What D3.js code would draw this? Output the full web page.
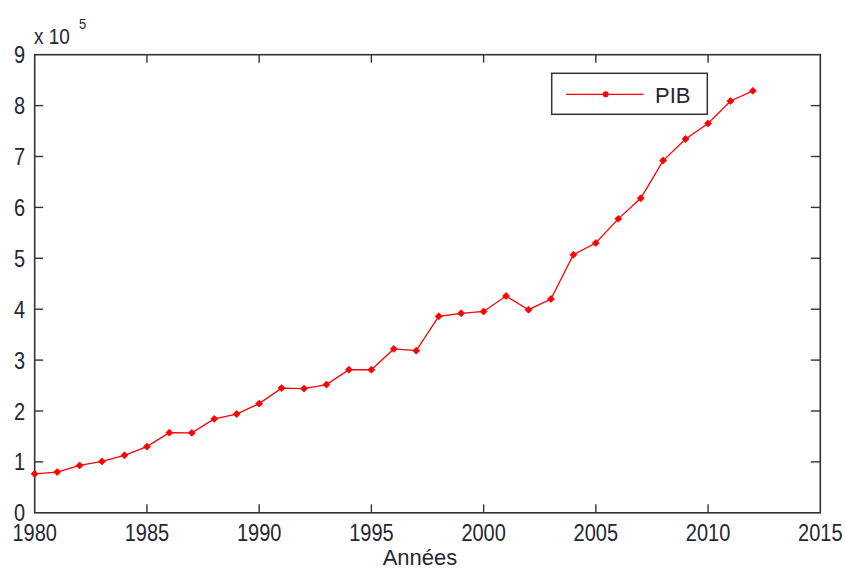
<!DOCTYPE html>
<html>
<head>
<meta charset="utf-8">
<script src="https://cdn.jsdelivr.net/npm/d3@7"></script>
<style>
  html, body { margin: 0; padding: 0; background: #fff; }
  svg { display: block; }
  text { font-family: "Liberation Sans", Arial, sans-serif; fill: #262630; }
</style>
</head>
<body>
<svg id="chart" width="845" height="570"></svg>
<script>
// ---- data ----
const years = [1980,1981,1982,1983,1984,1985,1986,1987,1988,1989,1990,1991,1992,1993,1994,1995,1996,1997,1998,1999,2000,2001,2002,2003,2004,2005,2006,2007,2008,2009,2010,2011,2012];
const pib = [0.765,0.80,0.93,1.01,1.13,1.30,1.575,1.57,1.845,1.94,2.145,2.45,2.44,2.52,2.81,2.81,3.22,3.185,3.86,3.92,3.955,4.26,3.99,4.20,5.07,5.30,5.775,6.18,6.92,7.345,7.65,8.09,8.29];
const xTicks = [1980,1985,1990,1995,2000,2005,2010,2015];
const yTicks = [0,1,2,3,4,5,6,7,8,9];
const seriesName = "PIB";
const xLabel = "Années";
const exponentBase = "x 10";
const exponent = "5";

// ---- layout ----
const svg = d3.select("#chart");
const pLeft = 34.7, pRight = 820.3, pTop = 54.7, pBottom = 512.8;
const x = d3.scaleLinear().domain([1980, 2015]).range([pLeft, pRight]);
const y = d3.scaleLinear().domain([0, 9]).range([pBottom, pTop]);
const axisColor = "#333";
const labelScaleY = 1.2;

// ticks (inside, all four sides)
const tickG = svg.append("g").attr("stroke", axisColor).attr("stroke-width", 1.4);
xTicks.slice(1, -1).forEach(t => {
  tickG.append("line").attr("x1", x(t)).attr("x2", x(t)).attr("y1", pBottom).attr("y2", pBottom - 8.5);
  tickG.append("line").attr("x1", x(t)).attr("x2", x(t)).attr("y1", pTop).attr("y2", pTop + 8);
});
yTicks.slice(1, -1).forEach(t => {
  tickG.append("line").attr("x1", pLeft).attr("x2", pLeft + 8.5).attr("y1", y(t)).attr("y2", y(t));
  tickG.append("line").attr("x1", pRight).attr("x2", pRight - 9.5).attr("y1", y(t)).attr("y2", y(t));
});

// frame
svg.append("rect")
  .attr("x", pLeft).attr("y", pTop)
  .attr("width", pRight - pLeft).attr("height", pBottom - pTop)
  .attr("fill", "none").attr("stroke", axisColor).attr("stroke-width", 1.6);

// x tick labels
svg.append("g").selectAll("text").data(xTicks).join("text")
  .attr("text-anchor", "middle")
  .attr("font-size", 20)
  .attr("transform", d => `translate(${x(d)},${540.5}) scale(1,${labelScaleY})`)
  .text(d => d);

// y tick labels
svg.append("g").selectAll("text").data(yTicks).join("text")
  .attr("text-anchor", "end")
  .attr("font-size", 20)
  .attr("transform", d => `translate(25,${y(d) + 8.5}) scale(1,${labelScaleY})`)
  .text(d => d);

// exponent label
svg.append("text").attr("font-size", 19)
  .attr("transform", `translate(34,44) scale(1,1.15)`)
  .text(exponentBase);
svg.append("text").attr("font-size", 13)
  .attr("transform", `translate(79,29) scale(1,1.15)`)
  .text(exponent);

// x axis label
svg.append("text")
  .attr("text-anchor", "middle").attr("font-size", 22)
  .attr("x", 420).attr("y", 565)
  .text(xLabel);

// line
const line = d3.line().x((d, i) => x(years[i])).y(d => y(d));
svg.append("path").datum(pib)
  .attr("d", line)
  .attr("fill", "none").attr("stroke", "#ff0000").attr("stroke-width", 1.3);

// markers (square rotated 45° = diamond)
const marker = d3.symbol().type(d3.symbolSquare).size(24);
svg.append("g").selectAll("path").data(pib).join("path")
  .attr("d", marker)
  .attr("transform", (d, i) => `translate(${x(years[i])},${y(d)}) rotate(45)`)
  .attr("fill", "#ff0000").attr("stroke", "#ff0000").attr("stroke-width", 0.8);

// legend
const lg = svg.append("g");
lg.append("rect").attr("x", 551.7).attr("y", 73.3).attr("width", 155.6).attr("height", 41)
  .attr("fill", "#fff").attr("stroke", axisColor).attr("stroke-width", 1.5);
lg.append("line").attr("x1", 566).attr("x2", 643.5).attr("y1", 94.3).attr("y2", 94.3)
  .attr("stroke", "#ff0000").attr("stroke-width", 1.3);
lg.append("circle").attr("cx", 605.7).attr("cy", 94.3).attr("r", 3).attr("fill", "#ff0000");
lg.append("text").attr("x", 655).attr("y", 102.5).attr("font-size", 22).text(seriesName);
</script>
</body>
</html>
